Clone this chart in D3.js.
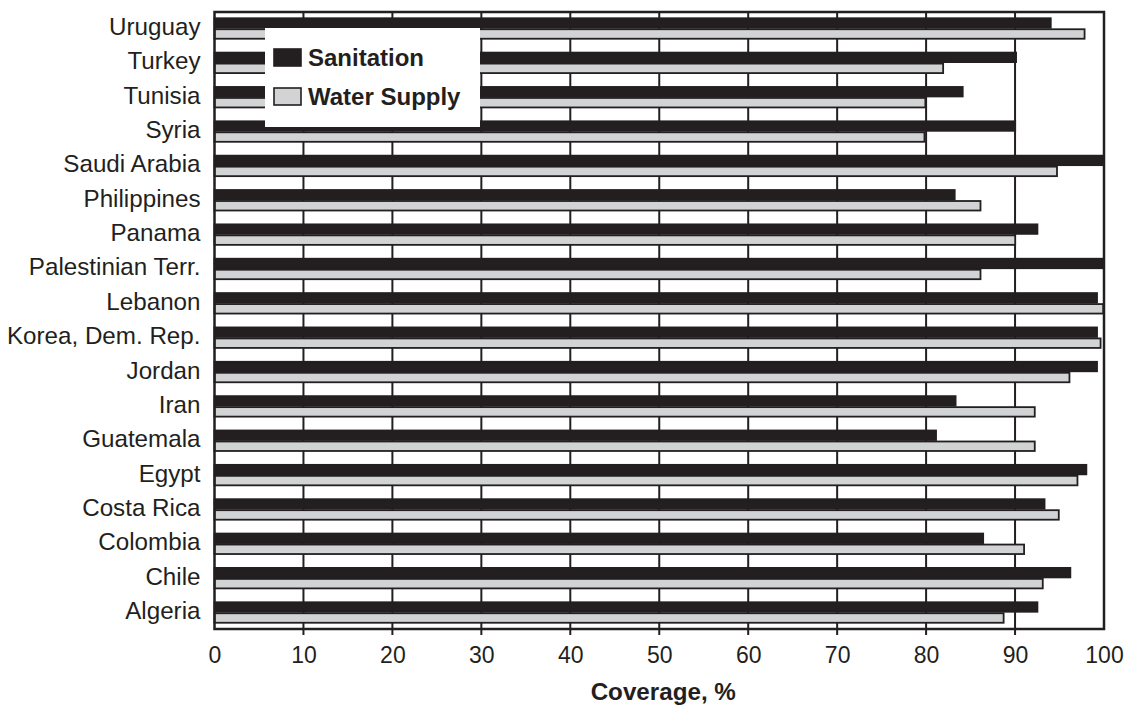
<!DOCTYPE html>
<html>
<head>
<meta charset="utf-8">
<script src="https://cdn.jsdelivr.net/npm/d3@7"></script>
<style>
  body { margin: 0; background: #fff; }
  svg { display: block; font-family: "Liberation Sans", Arial, Helvetica, sans-serif; }
</style>
</head>
<body>
<div id="chart"></div>
<script>
// countries, top to bottom
const countries = ['Uruguay', 'Turkey', 'Tunisia', 'Syria', 'Saudi Arabia', 'Philippines', 'Panama',
  'Palestinian Terr.', 'Lebanon', 'Korea, Dem. Rep.', 'Jordan', 'Iran', 'Guatemala', 'Egypt',
  'Costa Rica', 'Colombia', 'Chile', 'Algeria'];
const sanitation = [94.1, 90.2, 84.2, 90.1, 100, 83.3, 92.6, 100, 99.3, 99.3, 99.3, 83.4, 81.2,
  98.1, 93.4, 86.5, 96.3, 92.6];
const waterSupply = [97.9, 82, 80, 79.9, 94.8, 86.2, 90.1, 86.2, 100, 99.7, 96.2, 92.3, 92.3,
  97.1, 95, 91.1, 93.2, 88.8];
const seriesNames = ['Sanitation', 'Water Supply'];
const xTicks = [0, 10, 20, 30, 40, 50, 60, 70, 80, 90, 100];

const W = 1128, H = 708;
const margin = { top: 12, right: 24, bottom: 79, left: 214.5 };
const dark = '#231f20', gray = '#d1d3d4';

const svg = d3.select('#chart').append('svg')
  .attr('width', W).attr('height', H);

const x = d3.scaleLinear().domain([0, 100]).range([margin.left, W - margin.right]);
const y = d3.scaleBand().domain(countries).range([margin.top, H - margin.bottom])
  .paddingInner(0.36).paddingOuter(0.16);
const ySub = d3.scaleBand().domain(seriesNames).range([0, y.bandwidth()]);
const color = d3.scaleOrdinal().domain(seriesNames).range([dark, gray]);

const rows = countries.map((c, i) => ({ name: c, values: [sanitation[i], waterSupply[i]] }));

// gridlines (with short ticks below the axis)
svg.append('g')
  .selectAll('line')
  .data(xTicks.slice(1, -1))
  .enter().append('line')
  .attr('x1', d => x(d)).attr('x2', d => x(d))
  .attr('y1', margin.top).attr('y2', H - margin.bottom + 6)
  .attr('stroke', dark).attr('stroke-width', 2);

// bars
const groups = svg.append('g')
  .selectAll('g')
  .data(rows)
  .enter().append('g')
  .attr('transform', d => 'translate(0,' + y(d.name) + ')');

groups.selectAll('rect')
  .data(d => d.values.map((v, i) => ({ key: seriesNames[i], value: v })))
  .enter().append('rect')
  .attr('x', x(0))
  .attr('y', d => ySub(d.key) + 0.75)
  .attr('width', d => x(d.value) - x(0) - 0.75)
  .attr('height', ySub.bandwidth() - 1.5)
  .attr('fill', d => color(d.key))
  .attr('stroke', dark)
  .attr('stroke-width', 1.8);

// frame
svg.append('rect')
  .attr('x', x(0)).attr('y', margin.top)
  .attr('width', x(100) - x(0)).attr('height', H - margin.bottom - margin.top)
  .attr('fill', 'none').attr('stroke', dark).attr('stroke-width', 2.5);

// x axis labels
const xAxis = svg.append('g')
  .attr('transform', 'translate(0,' + (H - margin.bottom) + ')')
  .call(d3.axisBottom(x).tickValues(xTicks).tickSize(0).tickPadding(18));
xAxis.select('.domain').remove();
xAxis.selectAll('text')
  .attr('font-size', 23).attr('fill', dark)
  .attr('font-family', '"Liberation Sans", Arial, sans-serif');

// country labels
svg.append('g')
  .selectAll('text')
  .data(countries)
  .enter().append('text')
  .attr('x', margin.left - 14)
  .attr('y', d => y(d) + y.bandwidth() / 2 - 2)
  .attr('dy', '0.35em')
  .attr('text-anchor', 'end')
  .attr('font-size', 24.2)
  .attr('fill', dark)
  .text(d => d);

// axis title
svg.append('text')
  .attr('x', (x(0) + x(100)) / 2 + 4)
  .attr('y', 700)
  .attr('text-anchor', 'middle')
  .attr('font-size', 24.2)
  .attr('font-weight', 'bold')
  .attr('fill', dark)
  .text('Coverage, %');

// legend
const legend = svg.append('g').attr('transform', 'translate(265,28)');
legend.append('rect')
  .attr('width', 215).attr('height', 99)
  .attr('fill', '#fff');
const items = legend.selectAll('g.item')
  .data(seriesNames)
  .enter().append('g')
  .attr('class', 'item')
  .attr('transform', (d, i) => 'translate(9,' + (21 + i * 39) + ')');
items.append('rect')
  .attr('width', 27).attr('height', 17)
  .attr('fill', d => color(d))
  .attr('stroke', dark).attr('stroke-width', 1.6);
items.append('text')
  .attr('x', 34).attr('y', 8.5)
  .attr('dy', '0.35em')
  .attr('font-size', 24)
  .attr('font-weight', 'bold')
  .attr('fill', dark)
  .text(d => d);
</script>
</body>
</html>
